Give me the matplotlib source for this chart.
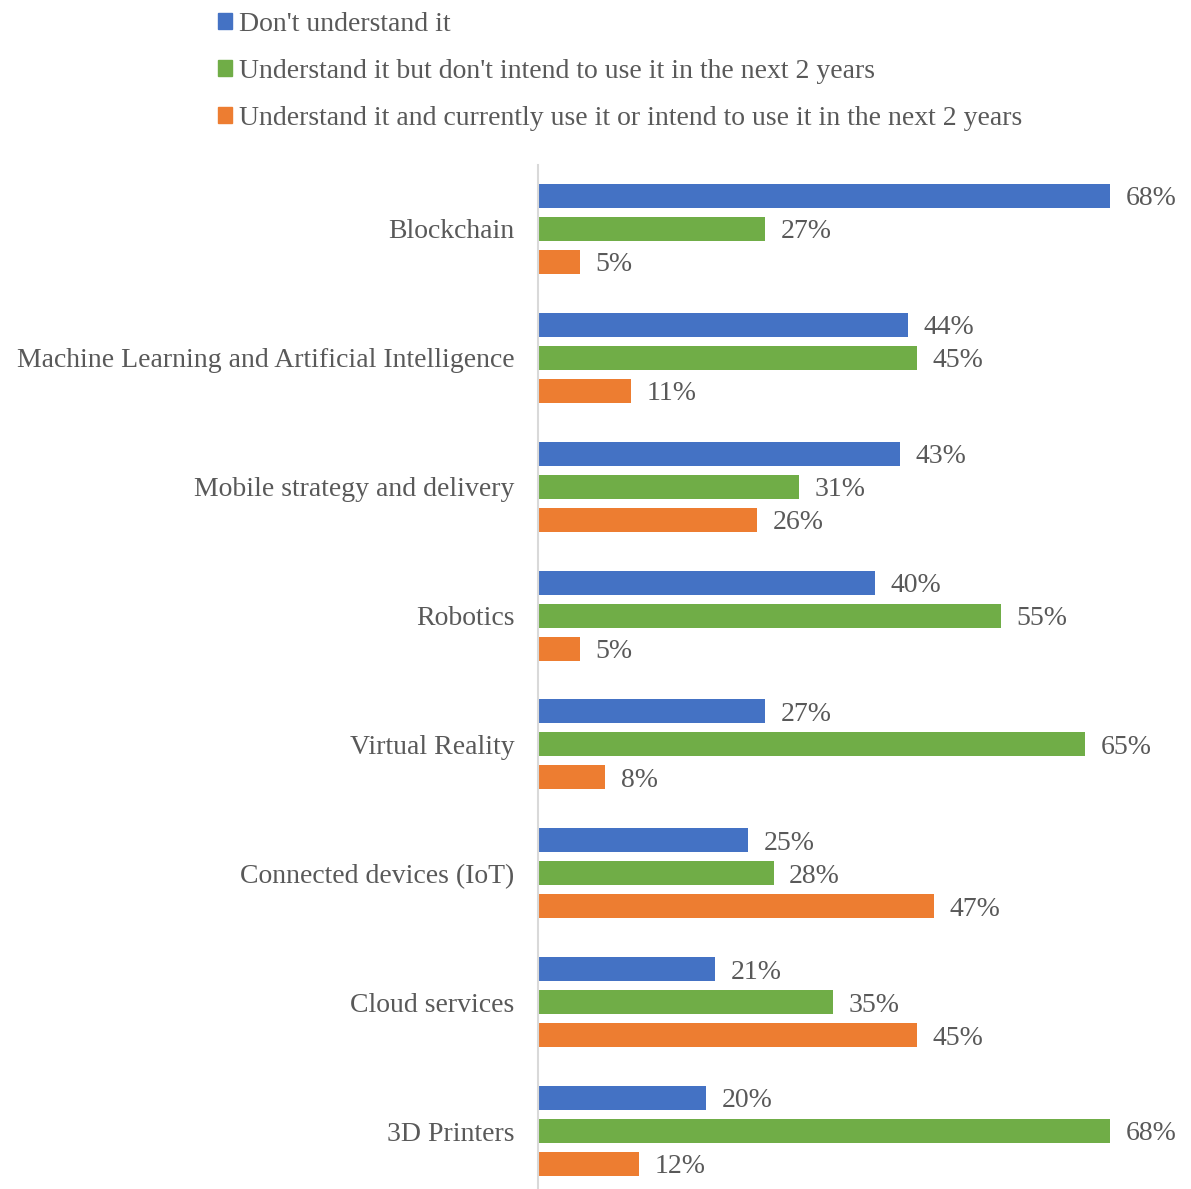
import matplotlib.pyplot as plt
from matplotlib.patches import Patch
import numpy as np

categories = ["Blockchain", "Machine Learning and Artificial Intelligence",
              "Mobile strategy and delivery", "Robotics", "Virtual Reality",
              "Connected devices (IoT)", "Cloud services", "3D Printers"]
dont_understand = [68, 44, 43, 40, 27, 25, 21, 20]
no_intent = [27, 45, 31, 55, 65, 28, 35, 68]
use_or_intend = [5, 11, 26, 5, 8, 47, 45, 12]
series_names = ["Don't understand it",
                "Understand it but don't intend to use it in the next 2 years",
                "Understand it and currently use it or intend to use it in the next 2 years"]
colors = ["#4472C4", "#70AD47", "#ED7D31"]

plt.rcParams['font.family'] = ['Liberation Serif', 'DejaVu Serif']
text_color = "#595959"
fs = 20

fig = plt.figure(figsize=(11.91, 11.89), dpi=100)
ax = fig.add_axes([538 / 1191, -0.0055, (1191 - 538) / 1191, (1195.5 - 164.5) / 1189])

y = np.arange(len(categories))
offset = 0.256
height = 0.186
for k, vals in enumerate([dont_understand, no_intent, use_or_intend]):
    ypos = y + (k - 1) * offset
    ax.barh(ypos, vals, height=height, color=colors[k])
    for yy, v in zip(ypos, vals):
        ax.text(v + 1.85, yy + 0.022, f"{v}%", va="center", ha="left",
                fontsize=fs, color=text_color)

ax.set_xlim(0, 77.6)
ax.set_ylim(7.5, -0.5)
ax.set_yticks(y)
ax.set_yticklabels(categories, fontsize=fs, color=text_color)
ax.tick_params(axis="y", length=0, pad=17)
ax.set_xticks([])
for s in ["top", "right", "bottom"]:
    ax.spines[s].set_visible(False)
ax.spines["left"].set_color("#D9D9D9")
ax.spines["left"].set_linewidth(1.5)

handles = [Patch(color=c) for c in colors]
fig.legend(handles, series_names, loc="upper left", bbox_to_anchor=(193 / 1191, 1.011),
           frameon=False, fontsize=fs, handlelength=0.5, handleheight=0.5,
           handletextpad=0.25, labelspacing=0.79, labelcolor=text_color)

fig.savefig("out.png", dpi=100)
